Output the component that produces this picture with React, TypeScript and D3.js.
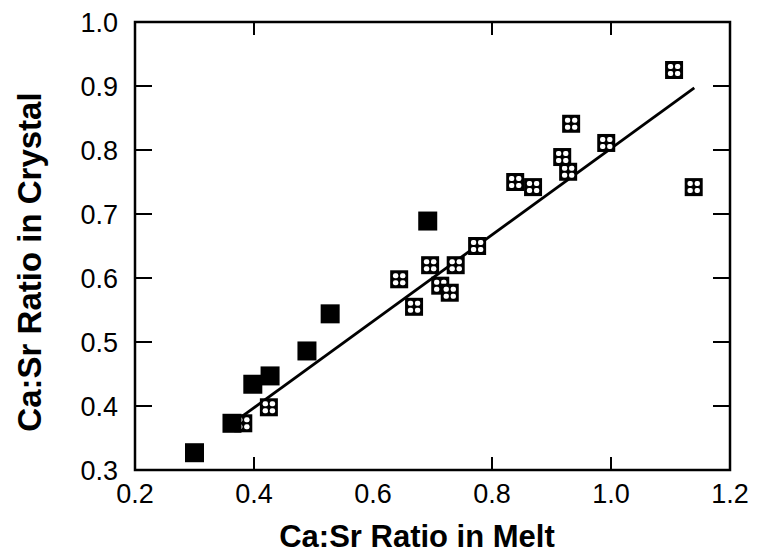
import React, { useEffect, useRef } from 'react';
import * as d3 from 'd3';

// Ca:Sr ratio, melt vs crystal
const filledX = [0.30, 0.363, 0.398, 0.427, 0.489, 0.528, 0.692];
const filledY = [0.327, 0.373, 0.434, 0.447, 0.486, 0.544, 0.689];

const openX = [0.382, 0.425, 0.644, 0.669, 0.696, 0.713, 0.729, 0.739, 0.775, 0.839, 0.869, 0.928, 0.918, 0.933, 0.992, 1.106, 1.139];
const openY = [0.373, 0.398, 0.598, 0.555, 0.620, 0.588, 0.577, 0.620, 0.650, 0.750, 0.742, 0.766, 0.789, 0.841, 0.811, 0.925, 0.742];

const fitX = [0.37, 1.14];
const fitY = [0.377, 0.897];

const xTickLabels = [0.2, 0.4, 0.6, 0.8, 1.0, 1.2];
const xTickMarks = [0.4, 0.8, 1.0];
const yTickLabels = [0.3, 0.4, 0.5, 0.6, 0.7, 0.8, 0.9, 1.0];
const yTickMarks = [0.4, 0.5, 0.6, 0.7, 0.8, 0.9];

const App = () => {
  const svgRef = useRef<SVGSVGElement>(null);

  useEffect(() => {
    if (!svgRef.current) return;
    const svg = d3.select(svgRef.current);
    svg.selectAll('*').remove();

    const dims = { width: 759, height: 554, left: 135, right: 730, top: 22, bottom: 470 };
    const font = '"Liberation Sans", Arial, Helvetica, sans-serif';

    const x = d3.scaleLinear().domain([0.2, 1.2]).range([dims.left, dims.right]);
    const y = d3.scaleLinear().domain([0.3, 1.0]).range([dims.bottom, dims.top]);

    svg.attr('width', dims.width).attr('height', dims.height);
    svg.append('rect').attr('width', dims.width).attr('height', dims.height).attr('fill', '#fff');

    // frame
    svg.append('rect')
      .attr('x', dims.left).attr('y', dims.top)
      .attr('width', dims.right - dims.left).attr('height', dims.bottom - dims.top)
      .attr('fill', 'none').attr('stroke', '#000').attr('stroke-width', 2.5);

    // ticks, pointing inwards on all four sides
    const ticks = svg.append('g').attr('stroke', '#000').attr('stroke-width', 2);
    xTickMarks.forEach(v => {
      ticks.append('line').attr('x1', x(v)).attr('x2', x(v)).attr('y1', dims.bottom).attr('y2', dims.bottom - 13);
      ticks.append('line').attr('x1', x(v)).attr('x2', x(v)).attr('y1', dims.top).attr('y2', dims.top + 13);
    });
    yTickMarks.forEach(v => {
      ticks.append('line').attr('y1', y(v)).attr('y2', y(v)).attr('x1', dims.left).attr('x2', dims.left + 17);
      ticks.append('line').attr('y1', y(v)).attr('y2', y(v)).attr('x1', dims.right).attr('x2', dims.right - 17);
    });

    // tick labels
    svg.append('g').selectAll('text')
      .data(xTickLabels)
      .join('text')
      .attr('x', d => x(d))
      .attr('y', 503)
      .attr('text-anchor', 'middle')
      .style('font-family', font).style('font-size', '27px')
      .text(d => d.toFixed(1));

    svg.append('g').selectAll('text')
      .data(yTickLabels)
      .join('text')
      .attr('x', 118)
      .attr('y', d => y(d))
      .attr('dy', '0.36em')
      .attr('text-anchor', 'end')
      .style('font-family', font).style('font-size', '27px')
      .text(d => d.toFixed(1));

    // axis titles
    svg.append('text')
      .attr('x', 417).attr('y', 547)
      .attr('text-anchor', 'middle')
      .style('font-family', font).style('font-size', '31px').style('font-weight', 'bold')
      .text('Ca:Sr Ratio in Melt');

    svg.append('text')
      .attr('transform', 'translate(41,262) rotate(-90)')
      .attr('text-anchor', 'middle')
      .style('font-family', font).style('font-size', '33px').style('font-weight', 'bold')
      .text('Ca:Sr Ratio in Crystal');

    // regression line
    const line = d3.line<number>().x(d => x(d)).y((d, i) => y(fitY[i]));
    svg.append('path')
      .attr('d', line(fitX))
      .attr('fill', 'none').attr('stroke', '#000').attr('stroke-width', 2.8);

    // open markers: black square with a 2x2 grid of white holes
    const openPts = openX.map((v, i) => [v, openY[i]]);
    const om = svg.append('g').selectAll('g')
      .data(openPts)
      .join('g')
      .attr('transform', d => `translate(${x(d[0])},${y(d[1])})`);
    om.append('rect').attr('x', -9).attr('y', -9).attr('width', 18).attr('height', 18).attr('fill', '#000');
    [[-6.2, -6], [0.9, -6], [-6.2, 1], [0.9, 1]].forEach(([hx, hy]) => {
      om.append('rect')
        .attr('x', hx).attr('y', hy).attr('width', 5.3).attr('height', 5)
        .attr('rx', 2).attr('fill', '#fff');
    });

    // filled markers
    const filledPts = filledX.map((v, i) => [v, filledY[i]]);
    svg.append('g').selectAll('rect')
      .data(filledPts)
      .join('rect')
      .attr('x', d => x(d[0]) - 9.5)
      .attr('y', d => y(d[1]) - 9.5)
      .attr('width', 19).attr('height', 19)
      .attr('fill', '#000');
  }, []);

  return (
    <div>
      <svg ref={svgRef} style={{ position: 'absolute', left: 0, top: 0 }}></svg>
    </div>
  );
};

export default App;
